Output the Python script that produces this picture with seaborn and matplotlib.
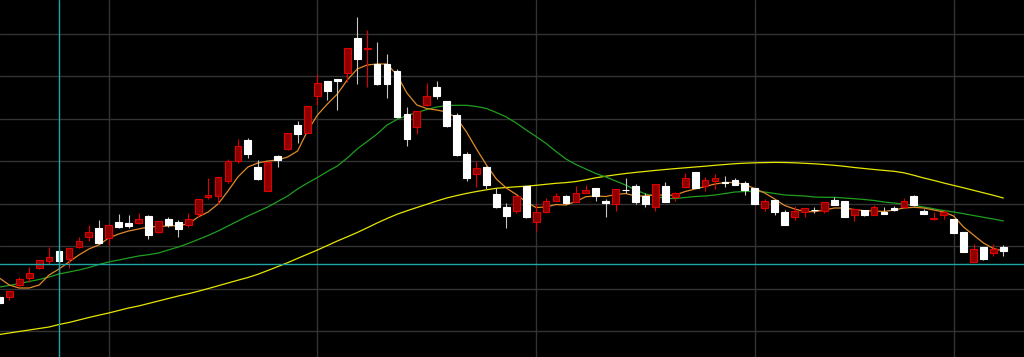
import numpy as np
import pandas as pd
import matplotlib
matplotlib.use("Agg")
import matplotlib.pyplot as plt
import seaborn as sns

opens = [6.03, 6.03, 7.17, 7.90, 8.90, 9.63, 10.63, 9.77, 11.03, 11.97,
         12.90, 11.90, 13.50, 13.37, 13.43, 14.10, 12.47, 13.83, 13.53, 13.17,
         14.27, 16.05, 16.13, 17.63, 19.63, 21.70, 19.03, 16.63, 20.15, 20.77,
         23.17, 22.43, 26.10, 27.63, 27.83, 28.37, 31.93, 30.77, 29.27, 29.27,
         28.60, 24.27, 23.03, 25.20, 26.97, 25.57, 24.20, 20.30, 18.27, 18.97,
         16.30, 15.03, 14.63, 17.10, 13.53, 14.53, 15.63, 16.15, 15.50, 16.43,
         16.93, 15.63, 15.27, 16.73, 17.10, 16.13, 15.03, 17.10, 16.03, 16.97,
         18.50, 17.13, 17.63, 17.47, 17.70, 17.37, 16.90, 14.93, 15.70, 14.50,
         13.97, 14.53, 14.73, 14.60, 15.70, 15.57, 14.23, 14.70, 14.23, 14.50,
         14.90, 15.03, 16.10, 14.57, 13.77, 14.17, 13.83, 12.53, 9.53, 11.03,
         10.37, 11.03]
highs = [6.20, 6.60, 7.97, 8.97, 9.75, 11.03, 10.70, 10.95, 12.03, 13.23,
         13.70, 13.25, 14.30, 14.17, 14.37, 14.20, 13.65, 14.03, 13.70, 14.43,
         15.80, 17.90, 18.00, 19.77, 21.77, 21.90, 19.70, 19.55, 20.20, 22.40,
         23.60, 25.15, 28.27, 27.65, 27.85, 30.95, 34.03, 32.70, 31.47, 30.27,
         28.83, 24.97, 24.65, 27.37, 27.57, 25.63, 24.37, 20.53, 19.63, 19.10,
         16.87, 15.43, 16.15, 17.15, 15.37, 15.93, 16.43, 16.20, 17.10, 17.20,
         16.95, 15.77, 16.80, 17.87, 17.30, 16.37, 17.35, 17.50, 16.50, 18.43,
         18.55, 17.97, 18.30, 18.10, 17.87, 17.57, 16.95, 15.77, 15.73, 14.70,
         15.10, 14.90, 15.03, 15.50, 15.97, 15.60, 14.85, 14.73, 15.17, 15.03,
         15.10, 15.90, 16.20, 14.83, 14.50, 14.70, 13.85, 12.55, 11.30, 11.05,
         11.30, 11.17]
lows = [5.20, 5.70, 6.97, 7.50, 8.85, 9.30, 8.43, 8.90, 10.90, 11.57,
        11.35, 11.25, 12.90, 12.90, 13.30, 11.77, 12.37, 12.97, 11.97, 12.97,
        13.97, 15.77, 15.30, 17.43, 19.37, 19.90, 17.75, 16.60, 18.97, 20.75,
        21.37, 22.40, 25.20, 25.70, 24.70, 27.53, 27.30, 27.03, 27.25, 25.87,
        23.95, 21.10, 22.30, 25.15, 25.83, 22.97, 20.15, 17.63, 16.97, 16.83,
        14.95, 12.87, 14.43, 13.95, 12.63, 14.50, 15.60, 15.35, 15.47, 16.40,
        15.60, 13.97, 14.63, 16.37, 15.30, 14.97, 14.63, 15.50, 15.57, 16.95,
        16.87, 16.63, 16.83, 17.03, 17.20, 16.23, 15.27, 14.63, 14.23, 13.20,
        13.70, 14.03, 14.37, 14.37, 15.20, 13.97, 13.57, 14.15, 14.20, 14.30,
        14.57, 15.00, 15.15, 14.30, 13.75, 13.83, 12.40, 10.50, 9.50, 9.75,
        10.10, 10.10]
closes = [5.37, 6.57, 7.77, 8.37, 9.70, 9.97, 9.57, 10.90, 11.63, 12.50,
          11.43, 13.20, 12.97, 13.10, 13.77, 12.25, 13.60, 13.17, 12.83, 13.80,
          15.77, 16.17, 17.97, 19.60, 21.10, 20.30, 17.80, 19.53, 19.70, 22.37,
          22.30, 25.13, 27.43, 26.60, 27.57, 30.90, 29.77, 30.90, 27.27, 27.27,
          23.97, 21.77, 24.60, 26.15, 26.10, 23.10, 20.20, 17.87, 18.87, 17.23,
          14.97, 14.13, 16.10, 13.97, 14.47, 15.60, 16.07, 15.40, 16.43, 16.70,
          16.13, 15.37, 16.77, 16.67, 15.50, 15.27, 17.30, 15.53, 16.37, 17.87,
          16.90, 17.70, 17.87, 17.40, 17.23, 16.70, 15.30, 15.57, 14.50, 13.23,
          14.60, 14.87, 14.67, 15.47, 15.23, 14.03, 14.83, 14.17, 14.97, 14.33,
          14.70, 15.57, 15.17, 14.33, 13.90, 14.50, 12.43, 10.53, 10.77, 9.77,
          10.77, 10.63]

ma_short = [7.90, 7.20, 6.90, 6.90, 7.20, 8.20, 8.80, 9.50, 10.20, 10.80,
            11.20, 11.90, 12.30, 12.60, 12.80, 13.00, 13.05, 13.10, 13.15, 13.30,
            14.00, 14.50, 15.30, 16.60, 18.00, 19.00, 19.40, 19.60, 19.70, 20.00,
            20.60, 22.60, 24.20, 25.30, 26.30, 27.70, 28.80, 29.20, 29.30, 29.30,
            28.20, 26.40, 25.20, 24.85, 24.70, 24.50, 23.90, 22.50, 20.80, 19.20,
            17.80, 16.90, 16.25, 15.50, 14.95, 15.00, 15.25, 15.20, 15.55, 16.03,
            16.10, 16.05, 16.25, 16.35, 16.10, 16.10, 16.25, 16.15, 16.20, 16.55,
            16.80, 17.05, 17.30, 17.45, 17.45, 17.25, 16.85, 16.40, 15.80, 15.15,
            14.80, 14.55, 14.53, 14.70, 14.90, 14.90, 14.75, 14.63, 14.60, 14.55,
            14.70, 14.90, 14.97, 14.90, 14.70, 14.50, 14.10, 13.00, 12.20, 11.40,
            10.85, 10.60]
ma_mid = [7.00, 7.15, 7.35, 7.55, 7.75, 8.00, 8.30, 8.50, 8.70, 8.95,
          9.25, 9.50, 9.70, 9.90, 10.10, 10.23, 10.40, 10.70, 11.00, 11.35,
          11.75, 12.15, 12.60, 13.10, 13.60, 14.10, 14.55, 15.00, 15.55, 16.10,
          16.80, 17.40, 17.95, 18.55, 19.10, 19.90, 20.80, 21.55, 22.30, 23.20,
          23.75, 24.15, 24.45, 24.75, 25.00, 25.15, 25.17, 25.17, 25.05, 24.85,
          24.45, 24.00, 23.40, 22.70, 22.05, 21.35, 20.55, 19.80, 19.25, 18.80,
          18.35, 18.00, 17.60, 17.20, 16.70, 16.30, 16.05, 15.85, 15.85, 15.95,
          16.05, 16.10, 16.20, 16.35, 16.50, 16.55, 16.57, 16.50, 16.35, 16.20,
          16.15, 16.10, 16.00, 15.97, 15.97, 15.90, 15.83, 15.75, 15.65, 15.50,
          15.40, 15.28, 15.15, 15.00, 14.82, 14.65, 14.50, 14.33, 14.15, 13.97,
          13.80, 13.60]
ma_long = [2.25, 2.40, 2.55, 2.70, 2.85, 3.00, 3.25, 3.45, 3.70, 3.95,
           4.18, 4.40, 4.65, 4.90, 5.10, 5.35, 5.60, 5.85, 6.10, 6.32,
           6.57, 6.84, 7.12, 7.40, 7.68, 7.95, 8.27, 8.65, 9.04, 9.43,
           9.86, 10.28, 10.70, 11.15, 11.60, 12.02, 12.45, 12.92, 13.40, 13.85,
           14.27, 14.62, 14.95, 15.27, 15.60, 15.90, 16.14, 16.36, 16.55, 16.72,
           16.87, 16.95, 17.02, 17.08, 17.17, 17.27, 17.37, 17.44, 17.55, 17.72,
           17.92, 18.08, 18.22, 18.35, 18.46, 18.56, 18.66, 18.75, 18.84, 18.92,
           19.00, 19.08, 19.17, 19.25, 19.33, 19.38, 19.42, 19.44, 19.46, 19.45,
           19.42, 19.37, 19.32, 19.25, 19.17, 19.07, 18.95, 18.85, 18.75, 18.66,
           18.57, 18.42, 18.17, 17.90, 17.66, 17.40, 17.16, 16.92, 16.67, 16.42,
           16.17, 15.90]

price_grid = [2.6, 6.85, 11.1, 15.35, 19.6, 23.85, 28.1, 32.35]
date_grid = [11, 32, 54, 76, 96]
cursor_idx = 6
cursor_price = 9.3

sns.set_style("dark", {"axes.facecolor": "black", "figure.facecolor": "black",
                       "grid.color": "#333333", "axes.edgecolor": "black"})

fig = plt.figure(figsize=(10.24, 3.57), dpi=100)
ax = fig.add_axes([0, 0, 1, 1])
ax.set_facecolor("black")

n = len(opens)
idx = np.arange(n)
df = pd.DataFrame({"idx": idx, "ma_short": ma_short, "ma_mid": ma_mid, "ma_long": ma_long})

for col, colr in [("ma_long", "#e6e600"), ("ma_mid", "#1f9e1f"), ("ma_short", "#e08a2a")]:
    sns.lineplot(data=df, x="idx", y=col, color=colr, lw=0.9, ax=ax, legend=False, zorder=2)

o = np.array(opens); c = np.array(closes); h = np.array(highs); l = np.array(lows)
up = c >= o
dn = ~up
bottom = np.minimum(o, c)
height = np.maximum(np.abs(c - o), 0.06)

ax.vlines(idx[up], l[up], h[up], color="#e00000", lw=0.8, zorder=3)
ax.vlines(idx[dn], l[dn], h[dn], color="#c8c8c8", lw=0.8, zorder=3)
ax.bar(idx[up], height[up], bottom=bottom[up], width=0.68, color="#8c0000",
       edgecolor="#e00000", linewidth=0.8, zorder=4)
ax.bar(idx[dn], height[dn], bottom=bottom[dn], width=0.68, color="white",
       edgecolor="white", linewidth=0.8, zorder=4)

ax.axvline(cursor_idx, color="#1fa5a5", lw=1.0, zorder=5)
ax.axhline(cursor_price, color="#1fa5a5", lw=1.0, zorder=5)

ax.set_xticks(date_grid)
ax.set_yticks(price_grid)
ax.grid(True, color="#333333", lw=1.0)
ax.set_axisbelow(True)
ax.tick_params(length=0, labelleft=False, labelbottom=False)
for s in ax.spines.values():
    s.set_visible(False)
ax.set_xlabel("")
ax.set_ylabel("")
ax.set_xlim(0.064, 103.08)
ax.set_ylim(0, 35.7)

fig.savefig("out.png", dpi=100, facecolor="black")
